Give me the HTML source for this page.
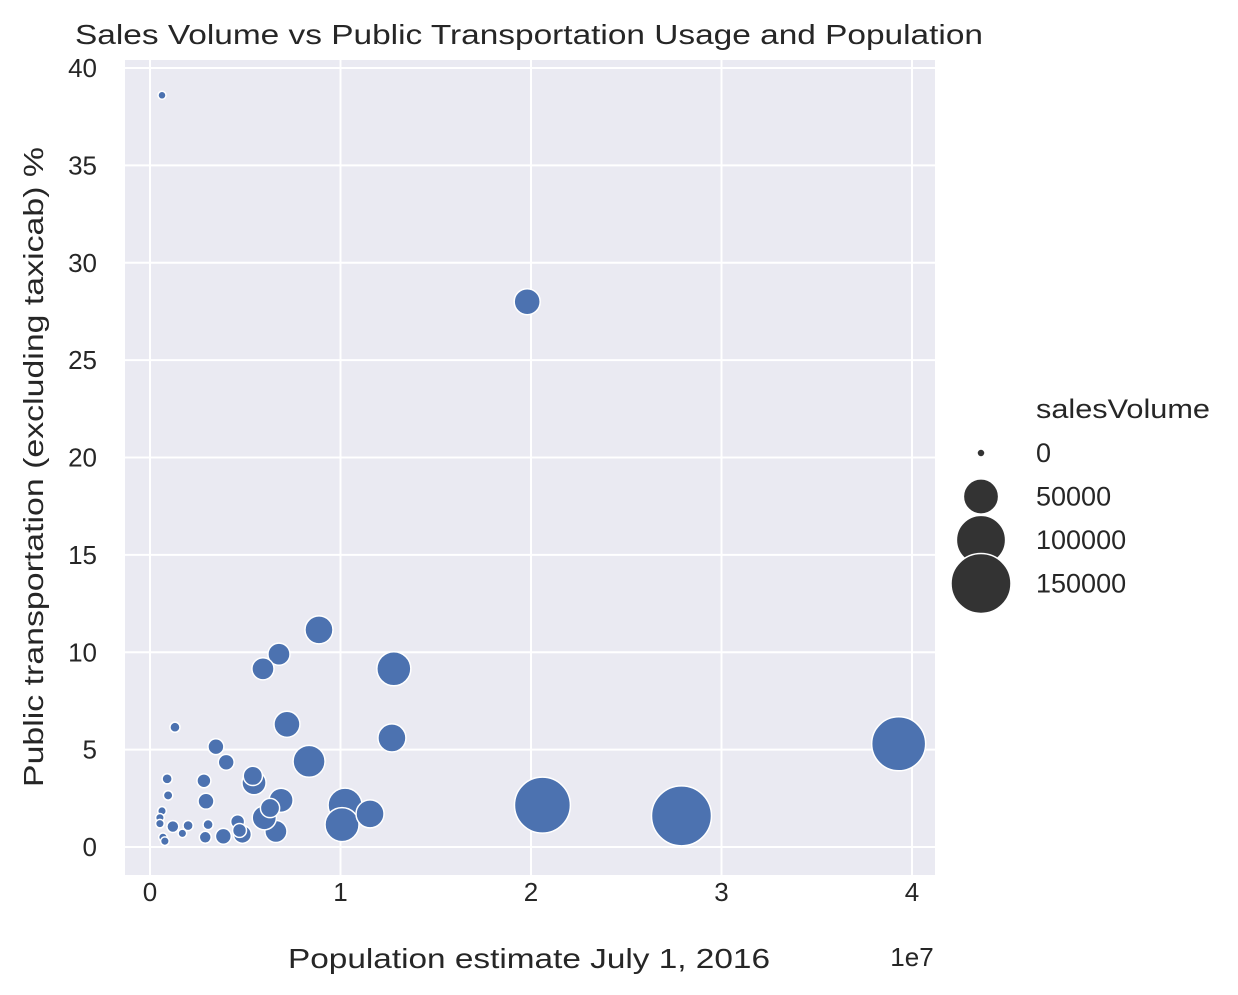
<!DOCTYPE html>
<html><head><meta charset="utf-8"><style>
body{margin:0;background:#fff;}
svg{display:block;font-family:"Liberation Sans",Arial,sans-serif;}
</style></head><body>
<svg id="chart" width="1238" height="995">
<rect x="125" y="60" width="810" height="815" fill="#eaeaf2"/>
<g id="grid"></g><g id="pts"></g><g id="ticks"></g>
<text x="529" y="44" font-size="27.5" fill="#262626" text-anchor="middle" textLength="908" lengthAdjust="spacingAndGlyphs">Sales Volume vs Public Transportation Usage and Population</text>
<text x="529" y="968" font-size="28" fill="#262626" text-anchor="middle" textLength="482" lengthAdjust="spacingAndGlyphs">Population estimate July 1, 2016</text>
<text x="912" y="966" font-size="26" fill="#262626" text-anchor="middle">1e7</text>
<text transform="translate(43,467) rotate(-90)" font-size="28" fill="#262626" text-anchor="middle" textLength="640" lengthAdjust="spacingAndGlyphs">Public transportation (excluding taxicab) %</text>
<g>
<text x="1036" y="418" font-size="27" fill="#262626" textLength="174" lengthAdjust="spacingAndGlyphs">salesVolume</text>
<g id="leg"></g>
</g>
</svg>
<script>
const popM=[0.63,19.8,20.6,27.9,39.3,8.87,12.8,6.77,5.93,7.19,12.7,8.35,10.24,10.08,11.55,6.88,6.61,6.0,6.3,5.46,5.4,4.0,3.46,2.94,2.83,1.31,0.9,0.95,4.85,3.85,4.6,2.9,3.05,1.2,2.0,1.7,0.63,0.52,0.52,0.68,0.78,4.7];
const transit=[38.6,28.0,2.15,1.6,5.3,11.15,9.15,9.9,9.15,6.3,5.6,4.4,2.15,1.15,1.7,2.4,0.8,1.5,2.0,3.3,3.65,4.35,5.15,2.35,3.4,6.15,3.5,2.65,0.65,0.55,1.3,0.5,1.15,1.05,1.1,0.7,1.85,1.5,1.2,0.5,0.3,0.85];
const sales=[0,26000,130000,150000,121000,30600,46400,18000,18000,26000,30600,40700,46400,46400,30600,22000,18000,22000,13000,22000,13000,8000,8000,8000,5500,1600,1600,1000,11000,8000,5500,3300,1600,3300,1600,400,400,400,400,400,400,5500];
const legVals=[0,50000,100000,150000];
const xTicks=[0,1,2,3,4], yTicks=[0,5,10,15,20,25,30,35,40];
const NS="http://www.w3.org/2000/svg";
const X=v=>150+v*190.5, Y=v=>847-v*19.475, R=v=>Math.sqrt(16+v*0.00589);
const XM=m=>X(m/10);
function mk(t,a,p){const e=document.createElementNS(NS,t);for(const k in a)e.setAttribute(k,a[k]);p.appendChild(e);return e;}
const g=document.getElementById('grid'),tk=document.getElementById('ticks');
xTicks.forEach(t=>{const l=mk('line',{x1:X(t),x2:X(t),y1:60,y2:875,stroke:'#fff','stroke-width':2},g);


const s=mk('text',{x:X(t),y:901,'font-size':26,fill:'#262626','text-anchor':'middle'},tk);s.textContent=t;

});
yTicks.forEach(t=>{const l=mk('line',{x1:125,x2:935,y1:Y(t),y2:Y(t),stroke:'#fff','stroke-width':2},g);


const s=mk('text',{x:97,y:Y(t)+9,'font-size':26,fill:'#262626','text-anchor':'end'},tk);s.textContent=t;

});
const pg=document.getElementById('pts');
popM.forEach((p,i)=>{const c=mk('circle',{cx:XM(p),cy:Y(transit[i]),r:R(sales[i]),fill:'#4c72b0',stroke:'#fff','stroke-width':1.5},pg);

});
const lg=document.getElementById('leg');
legVals.forEach((v,i)=>{const y=453+i*43.5;const c=mk('circle',{cx:981,cy:y,r:R(v),fill:'#333',stroke:'#fff','stroke-width':1.5},lg);


const s=mk('text',{x:1036,y:y+9,'font-size':27,fill:'#262626'},lg);s.textContent=v;

});
</script>
</body></html>
